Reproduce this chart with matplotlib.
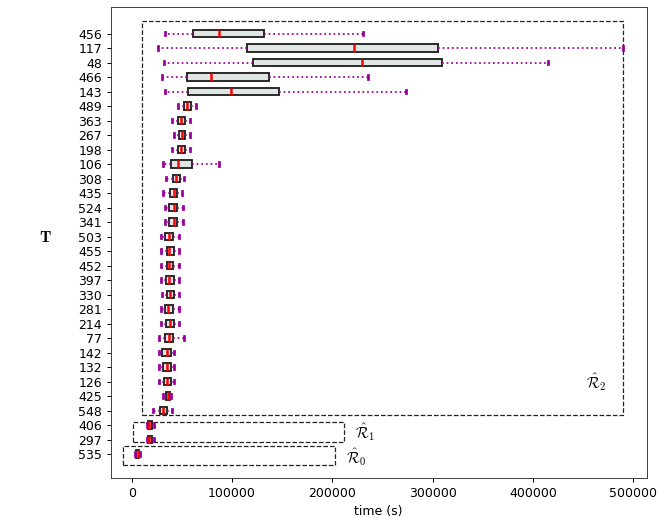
import matplotlib
matplotlib.use("Agg")
import matplotlib.pyplot as plt
from matplotlib.patches import Rectangle

plt.rcParams['mathtext.fontset'] = 'cm'

# categories, top to bottom
labels = ["456", "117", "48", "466", "143", "489", "363", "267", "198", "106",
          "308", "435", "524", "341", "503", "455", "452", "397", "330", "281",
          "214", "77", "142", "132", "126", "425", "548", "406", "297", "535"]
whislo = [33200, 26000, 31900, 30500, 33200, 46300, 40600, 42000, 40400, 30700,
          34200, 31500, 32900, 32900, 28900, 28900, 28900, 28900, 29900, 28900,
          28900, 27500, 27500, 27500, 27500, 31500, 20900, 14900, 14900, 3000]
q1 = [60800, 115200, 121200, 55000, 56400, 52000, 46000, 46800, 46300, 39200,
      40800, 38500, 37500, 37500, 33500, 34900, 34900, 34200, 35200, 33500,
      34600, 33500, 30500, 31500, 31800, 34200, 27900, 16200, 16200, 4300]
med = [86700, 222000, 229000, 79000, 99000, 54800, 49300, 50300, 49400, 46300,
       44500, 42500, 42200, 42500, 36800, 37200, 37500, 37200, 37800, 36500,
       37800, 36800, 34900, 35500, 34900, 36200, 30900, 17500, 17500, 6000]
q3 = [132200, 305500, 309200, 137200, 147100, 59500, 53400, 53200, 52900, 59800,
      48100, 45500, 45200, 45200, 40800, 42200, 41200, 42500, 42200, 40800,
      42500, 41200, 38900, 39200, 39500, 38200, 34900, 19900, 19900, 7600]
whishi = [230500, 489500, 414600, 235000, 273700, 63900, 58200, 58200, 58200, 87100,
          52100, 49800, 51100, 51100, 46800, 46800, 46800, 46800, 46800, 46800,
          46800, 52400, 42200, 42200, 42200, 39200, 39900, 22500, 22500, 8600]

region_labels = [r"$\hat{\mathcal{R}}_0$", r"$\hat{\mathcal{R}}_1$", r"$\hat{\mathcal{R}}_2$"]

n = len(labels)
positions = [n - i for i in range(n)]

stats = []
for i in range(n):
    stats.append(dict(label=labels[i], whislo=whislo[i], q1=q1[i], med=med[i],
                      q3=q3[i], whishi=whishi[i], fliers=[]))

DPI = 90
fig = plt.figure(figsize=(664 / DPI, 523 / DPI), dpi=DPI)
ax = fig.add_axes([0.1667, 0.086, 0.974 - 0.1667, 0.9866 - 0.086])

purple = '#990099'
ax.bxp(stats, positions=positions, vert=False, widths=0.5, patch_artist=True,
       showfliers=False,
       boxprops=dict(facecolor='#dfe6e3', edgecolor='#222222', linewidth=1.5),
       medianprops=dict(color='red', linewidth=2),
       whiskerprops=dict(color=purple, linestyle=':', linewidth=1.4),
       capprops=dict(color=purple, linewidth=2.2))

# dashed region rectangles
rects = [(-8400, 0.24, 211300, 1.33),
         (1300, 1.85, 210700, 1.38),
         (10600, 3.69, 479100, 27.19)]
for (x0, y0, w, h) in rects:
    ax.add_patch(Rectangle((x0, y0), w, h, fill=False, edgecolor='#222222',
                           linestyle='--', linewidth=1.0))

ax.text(213300, 0.76, region_labels[0], fontsize=12, ha='left', va='center')
ax.text(222600, 2.48, region_labels[1], fontsize=12, ha='left', va='center')
ax.text(452500, 5.99, region_labels[2], fontsize=12, ha='left', va='center')

ax.set_xlim(-21000, 513300)
ax.set_ylim(-0.655, 31.83)
ax.set_yticks(positions)
ax.set_yticklabels(labels)
ax.set_xticks([0, 100000, 200000, 300000, 400000, 500000])
ax.set_xticklabels(["0", "100000", "200000", "300000", "400000", "500000"])
ax.set_xlabel("time (s)")
ax.set_ylabel(r"$\mathbf{T}$", rotation=0, fontsize=13, ha='center', va='center')
ax.yaxis.set_label_coords(-0.122, 0.51)
for s in ax.spines.values():
    s.set_color('#444444')

fig.savefig("out.png", dpi=DPI)
